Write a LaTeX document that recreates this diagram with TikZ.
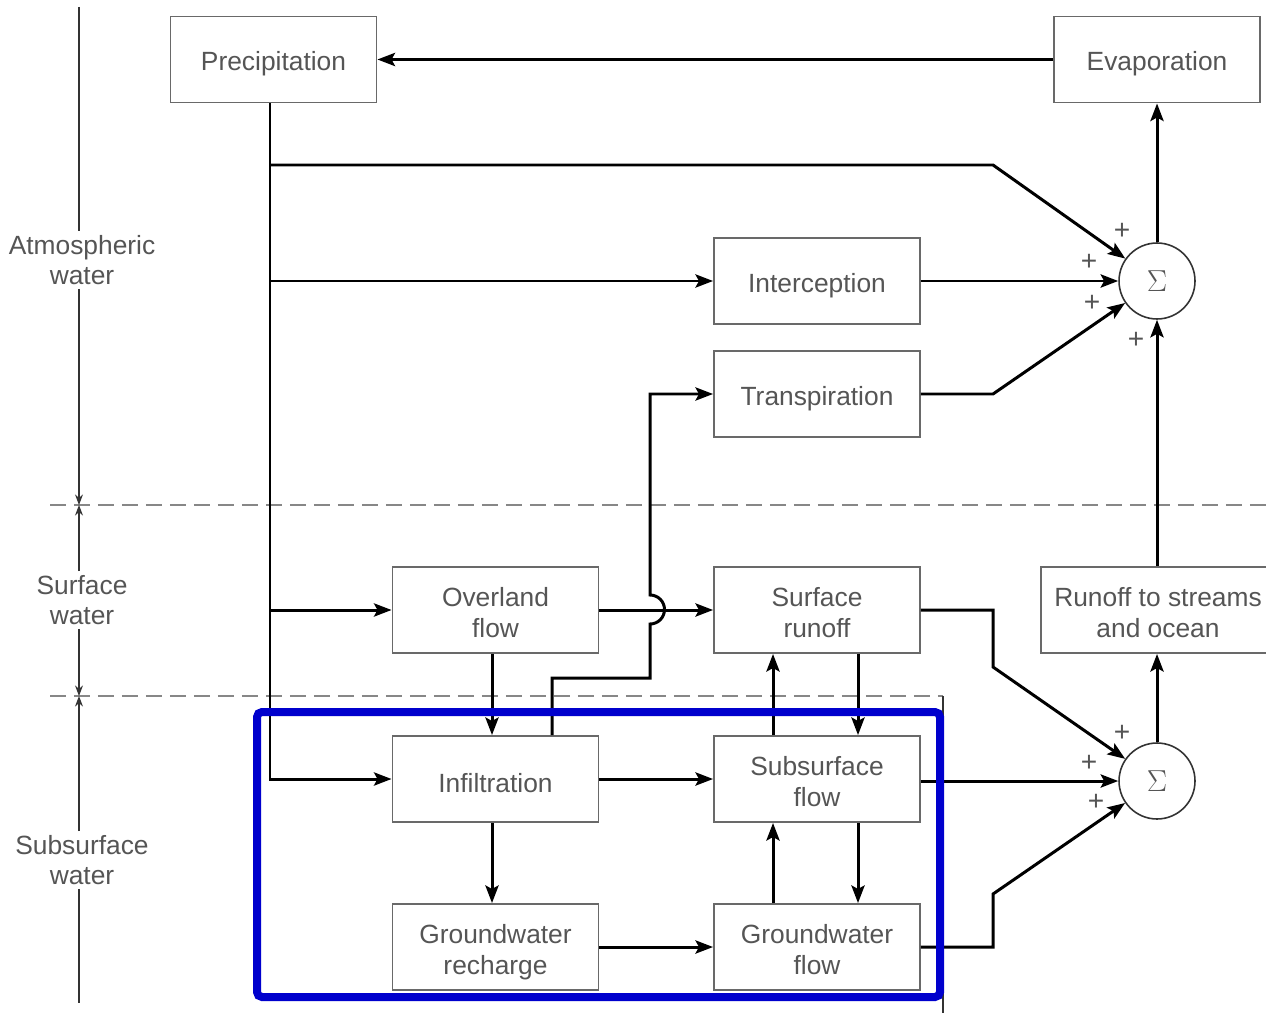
\documentclass[tikz,border=0pt]{standalone}
\usepackage{fontspec}
\setmainfont{Liberation Sans}
\usetikzlibrary{arrows.meta}
\definecolor{txt}{RGB}{85,85,85}
\definecolor{bord}{RGB}{105,105,105}
\definecolor{dashc}{RGB}{135,135,135}
\definecolor{hl}{RGB}{0,0,205}
\begin{document}
\begin{tikzpicture}[x=0.02cm,y=-0.02cm,
 box/.style={draw=bord,line width=1.1pt,minimum width=4.12cm,minimum height=1.72cm,inner sep=0pt},
 lbl/.style={text=txt,align=center,font=\fontsize{15}{17.5}\selectfont,inner sep=0pt},
 one/.style={label={[lbl,yshift=-0.09cm]center:#1}},
 two/.style={label={[lbl,yshift=-0.05cm]center:#1}},
 sumnode/.style={draw=black!80,circle,minimum size=1.52cm,inner sep=0pt,line width=0.9pt,text=txt,font=\fontsize{16}{16}\selectfont},
 conn/.style={line width=1.7pt,-{Stealth[length=10pt,width=7.5pt,inset=2pt]}},
 plus/.style={text=txt,font=\fontsize{16}{16}\selectfont,inner sep=0pt},
 side/.style={text=txt,align=center,font=\fontsize{15}{17.5}\selectfont,inner sep=2pt},
 ax/.style={line width=0.6pt,black!80},
 axa/.style={line width=0.6pt,black!80,-{Stealth[length=6pt,width=4.5pt]}},
 sep/.style={dashc,line width=1.1pt,dash pattern=on 0.32cm off 0.16cm}]
\useasboundingbox (0,0) rectangle (1266,1013);
\fill[white] (0,0) rectangle (1266,1013);

% separators
\draw[sep] (50,505) -- (1266,505);
\draw[sep] (50,696) -- (943,696);
\draw[ax] (943,696) -- (943,1013);

% side labels and axis
\node[side] (atm) at (82,260) {Atmospheric\\water};
\node[side] (surf) at (82,600) {Surface\\water};
\node[side] (subw) at (82,860) {Subsurface\\water};
\coordinate (axtop) at (79,7);
\coordinate (d1) at (79,505);
\coordinate (d2) at (79,696);
\coordinate (axbot) at (79,1003);
\draw[ax] (axtop) -- (atm.north -| axtop);
\draw[axa] (atm.south -| axtop) -- (d1);
\draw[axa] (surf.north -| axtop) -- (d1);
\draw[axa] (surf.south -| axtop) -- (d2);
\draw[axa] (subw.north -| axtop) -- (d2);
\draw[ax] (subw.south -| axtop) -- (axbot);

% boxes
\node[box,one={Precipitation}] (prec) at (273.5,59.5) {};
\node[box,one={Evaporation}] (evap) at (1157,59.5) {};
\node[box,one={Interception}] (inter) at (817,281) {};
\node[box,one={Transpiration}] (trans) at (817,394) {};
\node[box,two={Overland\\flow}] (over) at (495.5,610) {};
\node[box,two={Surface\\runoff}] (srun) at (817,610) {};
\node[box,minimum width=4.68cm,two={Runoff to streams\\and ocean}] (rso) at (1158,610) {};
\node[box,one={Infiltration}] (infil) at (495.5,779) {};
\node[box,two={Subsurface\\flow}] (subs) at (817,779) {};
\node[box,label={[lbl,yshift=-0.1cm]center:Groundwater\\recharge}] (gwr) at (495.5,947) {};
\node[box,two={Groundwater\\flow}] (gwf) at (817,947) {};
\node[sumnode] (s1) at (1157,281) {$\Sigma$};
\node[sumnode] (s2) at (1157,781) {$\Sigma$};

% plus signs
\node[plus] at (1122,231) {+};
\node[plus] at (1089,262) {+};
\node[plus] at (1092,303) {+};
\node[plus] at (1136,340) {+};
\node[plus] at (1122,733) {+};
\node[plus] at (1089,763) {+};
\node[plus] at (1096,802) {+};

% connectors
\draw[conn] (evap.west) -- (prec.east);
\draw[conn] (prec.south -| 270,0) |- (infil.west);
\draw[conn] (270,165) -- (993,165) -- (s1);
\draw[conn] (270,281) -- (inter.west);
\draw[conn] (270,610) -- (over.west);
\draw[conn] (inter.east) -- (s1.west);
\draw[conn] (trans.east) -- (993,394) -- (s1);
\draw[conn] (s1.north) -- (s1.north |- evap.south);
\draw[conn] (s1.south |- rso.north) -- (s1.south);
\draw[conn] (over.east) -- (srun.west);
\draw[conn] (infil.north -| 552,0) -- (552,678) -- (650,678) -- (650,624)
  arc[start angle=-90,end angle=90,radius=0.29cm] -- (trans.west -| 650,0) -- (trans.west);
\draw[conn] (over.south -| 492,0) -- (infil.north -| 492,0);
\draw[conn] (srun.east) -- (993,610) -- (993,667) -- (s2);
\draw[conn] (subs.north -| 773,0) -- (srun.south -| 773,0);
\draw[conn] (srun.south -| 858,0) -- (subs.north -| 858,0);
\draw[conn] (infil.east) -- (subs.west);
\draw[conn] (subs.east |- s2.west) -- (s2.west);
\draw[conn] (infil.south -| 492,0) -- (gwr.north -| 492,0);
\draw[conn] (gwr.east) -- (gwf.west);
\draw[conn] (gwf.north -| 773,0) -- (subs.south -| 773,0);
\draw[conn] (subs.south -| 858,0) -- (gwf.north -| 858,0);
\draw[conn] (gwf.east) -- (993,947) -- (993,894) -- (s2);
\draw[conn] (s2.north) -- (s2.north |- rso.south);

% highlight
\draw[hl,line width=0.16cm,rounded corners=0.1cm] (257,712) rectangle (940,997);
\end{tikzpicture}
\end{document}
